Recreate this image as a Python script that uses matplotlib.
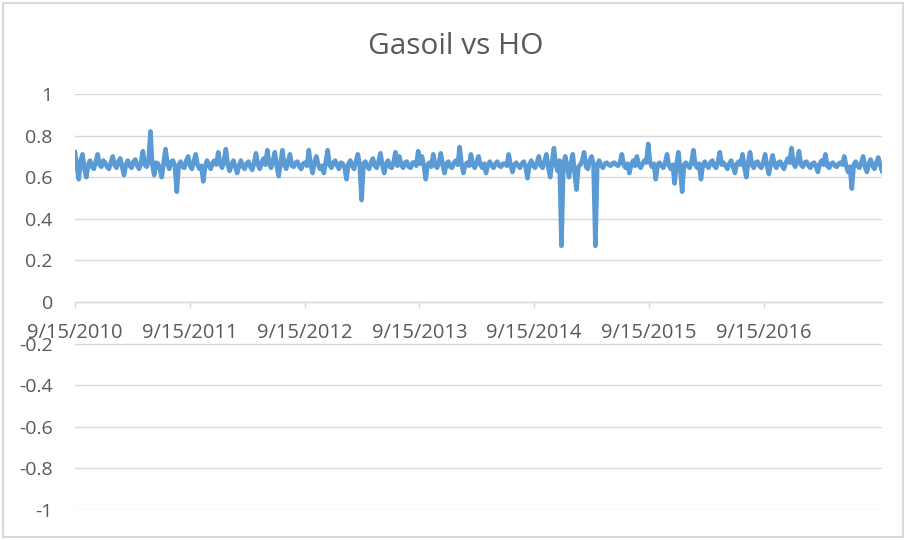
import matplotlib
matplotlib.use("Agg")
import matplotlib.pyplot as plt
import matplotlib.patches as mpatches
import pandas as pd

ratio_2010_2012 = [0.72, 0.65, 0.59, 0.68, 0.71, 0.64, 0.60, 0.66, 0.68, 0.65,
                   0.64, 0.675, 0.71, 0.66, 0.65, 0.68, 0.67, 0.65, 0.64, 0.67,
                   0.70, 0.66, 0.645, 0.675, 0.69, 0.65, 0.61, 0.66, 0.68, 0.655,
                   0.645, 0.675, 0.685, 0.655, 0.64, 0.67, 0.725, 0.66, 0.65, 0.675,
                   0.82, 0.66, 0.61, 0.67, 0.665, 0.64, 0.60, 0.67, 0.735, 0.665,
                   0.64, 0.675, 0.68, 0.65, 0.53, 0.66, 0.675, 0.65, 0.645, 0.68,
                   0.70, 0.655, 0.64, 0.675, 0.71, 0.66, 0.64, 0.655, 0.58, 0.65,
                   0.68, 0.655, 0.64, 0.67, 0.68, 0.66, 0.72, 0.665, 0.645, 0.68,
                   0.735, 0.66, 0.63, 0.66, 0.68, 0.65]
ratio_2012_2013 = [0.62, 0.655, 0.68, 0.65, 0.64, 0.665, 0.675, 0.65, 0.635, 0.67,
                   0.715, 0.66, 0.64, 0.67, 0.69, 0.66, 0.73, 0.665, 0.645, 0.68,
                   0.72, 0.655, 0.605, 0.665, 0.73, 0.66, 0.64, 0.675, 0.71, 0.655,
                   0.65, 0.67, 0.675, 0.65, 0.64, 0.665, 0.67, 0.655, 0.73, 0.66,
                   0.62, 0.67, 0.70, 0.66, 0.64, 0.655, 0.62, 0.675, 0.73, 0.66,
                   0.645, 0.67, 0.68, 0.655, 0.64, 0.67, 0.665, 0.645, 0.59, 0.665,
                   0.68, 0.655, 0.64, 0.675, 0.71, 0.66, 0.49, 0.665, 0.675, 0.65,
                   0.64, 0.67, 0.69, 0.655, 0.645, 0.675, 0.715, 0.66, 0.62, 0.665,
                   0.68, 0.65, 0.645, 0.675, 0.72, 0.655]
ratio_2013_2014 = [0.70, 0.66, 0.645, 0.67, 0.675, 0.65, 0.645, 0.67, 0.67, 0.655,
                   0.725, 0.665, 0.70, 0.655, 0.59, 0.66, 0.67, 0.65, 0.71, 0.66,
                   0.645, 0.67, 0.715, 0.66, 0.62, 0.665, 0.675, 0.65, 0.645, 0.67,
                   0.68, 0.66, 0.745, 0.665, 0.62, 0.66, 0.67, 0.655, 0.71, 0.66,
                   0.645, 0.67, 0.70, 0.66, 0.645, 0.665, 0.62, 0.66, 0.675, 0.655,
                   0.645, 0.665, 0.675, 0.655, 0.65, 0.665, 0.665, 0.655, 0.71, 0.66,
                   0.625, 0.66, 0.67, 0.655, 0.645, 0.665, 0.675, 0.65, 0.595, 0.66,
                   0.68, 0.655, 0.645, 0.67, 0.70, 0.655, 0.645, 0.675, 0.71, 0.65,
                   0.60, 0.67, 0.74, 0.66, 0.63, 0.68]
ratio_2014_2016 = [0.27, 0.66, 0.70, 0.65, 0.60, 0.67, 0.71, 0.62, 0.54, 0.65,
                   0.66, 0.68, 0.72, 0.65, 0.64, 0.68, 0.70, 0.66, 0.27, 0.66,
                   0.68, 0.655, 0.645, 0.665, 0.67, 0.66, 0.655, 0.665, 0.67, 0.66,
                   0.655, 0.67, 0.71, 0.66, 0.645, 0.665, 0.62, 0.66, 0.68, 0.655,
                   0.70, 0.66, 0.645, 0.665, 0.68, 0.67, 0.76, 0.67, 0.65, 0.665,
                   0.59, 0.66, 0.67, 0.655, 0.645, 0.67, 0.71, 0.655, 0.64, 0.66,
                   0.57, 0.66, 0.72, 0.64, 0.53, 0.66, 0.67, 0.655, 0.645, 0.675,
                   0.73, 0.66, 0.645, 0.665, 0.59, 0.66, 0.675, 0.655, 0.645, 0.67,
                   0.68, 0.655, 0.645, 0.675, 0.72, 0.66]
ratio_2016_2017 = [0.67, 0.655, 0.64, 0.665, 0.68, 0.65, 0.62, 0.665, 0.675, 0.66,
                   0.71, 0.65, 0.60, 0.67, 0.72, 0.66, 0.645, 0.67, 0.675, 0.655,
                   0.645, 0.67, 0.71, 0.655, 0.615, 0.665, 0.705, 0.66, 0.645, 0.67,
                   0.675, 0.655, 0.64, 0.67, 0.69, 0.67, 0.74, 0.665, 0.65, 0.68,
                   0.725, 0.66, 0.65, 0.67, 0.675, 0.655, 0.645, 0.665, 0.67, 0.65,
                   0.625, 0.665, 0.68, 0.66, 0.71, 0.655, 0.645, 0.665, 0.67, 0.655,
                   0.65, 0.665, 0.67, 0.66, 0.70, 0.655, 0.625, 0.65, 0.545, 0.66,
                   0.675, 0.655, 0.645, 0.67, 0.70, 0.65, 0.625, 0.665, 0.685, 0.655,
                   0.64, 0.67, 0.695, 0.66, 0.63]

ratio = ratio_2010_2012 + ratio_2012_2013 + ratio_2013_2014 + ratio_2014_2016 + ratio_2016_2017
fechas = pd.date_range("2010-09-15", periods=len(ratio), freq="6D")

tick_labels = ["9/15/2010", "9/15/2011", "9/15/2012", "9/15/2013",
               "9/15/2014", "9/15/2015", "9/15/2016"]
y_ticks = [1, 0.8, 0.6, 0.4, 0.2, 0, -0.2, -0.4, -0.6, -0.8, -1]

gris = "#595959"
gris_claro = "#d9d9d9"

fig = plt.figure(figsize=(9.06, 5.4), dpi=100)
ax = fig.add_axes([75 / 906, 1 - 510 / 540, 807 / 906, 416 / 540])

ax.plot(fechas, ratio, color="#5b9bd5", lw=3.3, solid_joinstyle="round", zorder=3)

ax.set_ylim(-1, 1)
ax.set_xlim(fechas[0], fechas[-1])
ax.set_yticks(y_ticks)
ax.set_yticklabels([f"{v:g}" for v in y_ticks])
ax.grid(axis="y", color=gris_claro, lw=1)
ax.set_axisbelow(True)

ax.set_xticks([pd.Timestamp(t) for t in tick_labels])
ax.set_xticklabels(tick_labels)

for s in ["top", "right", "left"]:
    ax.spines[s].set_visible(False)
ax.spines["bottom"].set_position(("data", 0))
ax.spines["bottom"].set_color(gris_claro)
ax.spines["bottom"].set_linewidth(1)

ax.tick_params(axis="y", length=0, pad=16, labelsize=14, labelcolor=gris)
ax.tick_params(axis="x", length=4, width=1, color=gris_claro, pad=11,
               labelsize=14.5, labelcolor=gris)
for lbl in ax.get_xticklabels() + ax.get_yticklabels():
    lbl.set_family("Open Sans")

fig.text(456 / 906, 1 - 46 / 540, "Gasoil vs HO", ha="center", va="center",
         fontsize=21.5, color=gris, family="Open Sans")

# borde del grafico
fig.patches.append(mpatches.Rectangle((3 / 906, 3 / 540), 900 / 906, 534 / 540,
                                      transform=fig.transFigure, fill=False,
                                      edgecolor=gris_claro, lw=1.5))

plt.savefig("out.png", dpi=100)
plt.close()
